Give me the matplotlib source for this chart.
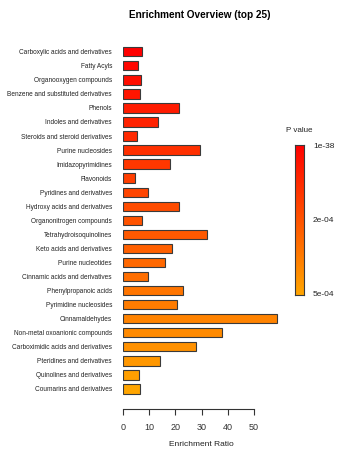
import matplotlib
matplotlib.use("Agg")

import numpy as np
import matplotlib.pyplot as plt
from matplotlib.colors import LinearSegmentedColormap

plt.rcParams['font.family'] = ['Liberation Sans', 'DejaVu Sans']

categories = [
    "Carboxylic acids and derivatives", "Fatty Acyls", "Organooxygen compounds",
    "Benzene and substituted derivatives", "Phenols", "Indoles and derivatives",
    "Steroids and steroid derivatives", "Purine nucleosides", "Imidazopyrimidines",
    "Flavonoids", "Pyridines and derivatives", "Hydroxy acids and derivatives",
    "Organonitrogen compounds", "Tetrahydroisoquinolines", "Keto acids and derivatives",
    "Purine nucleotides", "Cinnamic acids and derivatives", "Phenylpropanoic acids",
    "Pyrimidine nucleosides", "Cinnamaldehydes", "Non-metal oxoanionic compounds",
    "Carboximidic acids and derivatives", "Pteridines and derivatives",
    "Quinolines and derivatives", "Coumarins and derivatives",
]
enrichment = [7.1, 5.6, 6.8, 6.5, 21.4, 13.5, 5.2, 29.4, 17.9, 4.6, 9.5, 21.5, 7.3,
              32.2, 18.7, 16.0, 9.5, 22.8, 20.5, 59.0, 38.0, 27.9, 14.2, 6.0, 6.4]
xticks = [0, 10, 20, 30, 40, 50]
pval_labels = ["1e-38", "2e-04", "5e-04"]

W, H = 341, 454
fig = plt.figure(figsize=(W / 100, H / 100), dpi=100)

# red -> orange ramp, ordered by p value rank
cmap = LinearSegmentedColormap.from_list("pv", ["#FF0000", "#FFA500"])
n = len(categories)
colors = [cmap(i / (n - 1)) for i in range(n)]

ax = fig.add_axes([123 / W, 1 - 409 / H, 157 / W, (409 - 43.3) / H])
y = np.arange(n)
ax.barh(y, enrichment, height=0.67, color=colors, edgecolor="#3a3a3a", linewidth=0.8)
ax.set_ylim(25.43, -0.6)
ax.set_xlim(0, 60)
ax.set_yticks(y)
ax.set_yticklabels(categories, fontsize=4.7, color="#222222")
ax.tick_params(axis="y", length=0, pad=8)
ax.set_xticks(xticks)
ax.tick_params(axis="x", length=4, width=0.8, labelsize=6.5, pad=6, colors="#333333")
for s in ["top", "right", "left"]:
    ax.spines[s].set_visible(False)
ax.spines["bottom"].set_bounds(0, 50)
ax.spines["bottom"].set_color("#333333")

fig.text(201 / W, 1 - 445 / H, "Enrichment Ratio", ha="center", va="center", fontsize=6, color="#222222")
fig.text(200 / W, 1 - 15 / H, "Enrichment Overview (top 25)", ha="center", va="center",
         fontsize=7.2, fontweight="bold")

# p value legend bar
cax = fig.add_axes([295 / W, 1 - 295 / H, 9 / W, 150 / H])
grad = np.linspace(0, 1, 256).reshape(-1, 1)
cax.imshow(grad, aspect="auto", cmap=cmap, extent=[0, 1, 1, 0])
cax.set_xticks([])
cax.set_yticks([])
for s in cax.spines.values():
    s.set_color("#3a3a3a")
    s.set_linewidth(0.8)
fig.text(299 / W, 1 - 131 / H, "P value", ha="center", va="center", fontsize=5.8, color="#222222")
for lab, py in zip(pval_labels, [146, 220, 295]):
    fig.text(313 / W, 1 - py / H, lab, ha="left", va="center", fontsize=6, color="#222222")

fig.savefig("out.png", dpi=100)
